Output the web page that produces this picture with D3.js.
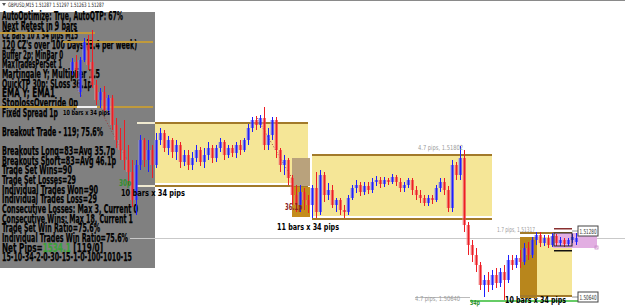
<!DOCTYPE html>
<html><head><meta charset="utf-8">
<script src="https://cdn.jsdelivr.net/npm/d3@7"></script>
<style>html,body{margin:0;padding:0;background:#fff;overflow:hidden}svg{display:block}</style>
</head><body><svg id="c" width="625" height="308"></svg>
<script>
// ---- candle data (GBPUSD M15) ----
const opens=[1.5289,1.5297,1.5267,1.5299,1.5314,1.5297,1.5274,1.5259,1.5267,1.5249,
1.5261,1.5234,1.5219,1.5209,1.5199,1.5187,1.5159,1.5194,1.5219,1.5199,
1.5209,1.5194,1.5219,1.5226,1.5211,1.5219,1.5207,1.5214,1.5197,1.5204,
1.5194,1.5201,1.5209,1.5197,1.5204,1.5211,1.5201,1.5211,1.5217,1.5204,
1.5211,1.5206,1.5214,1.5209,1.5219,1.5231,1.5239,1.5234,1.5241,1.5214,
1.5224,1.5239,1.5209,1.5194,1.5199,1.5181,1.5164,1.5154,1.5167,1.5159,
1.5154,1.5171,1.5147,1.5184,1.5164,1.5169,1.5154,1.5159,1.5149,1.5147,
1.5161,1.5171,1.5174,1.5167,1.5173,1.5169,1.5177,1.5179,1.5175,1.5179,
1.5177,1.5182,1.5177,1.5171,1.5174,1.5179,1.5169,1.5164,1.5161,1.5156,
1.5161,1.5159,1.5171,1.5177,1.5169,1.5151,1.5194,1.5184,1.5201,1.5134,
1.5114,1.5104,1.5094,1.5074,1.5079,1.5074,1.5084,1.5076,1.5087,1.5079,
1.5099,1.5094,1.5101,1.5097,1.5111,1.5104,1.5119,1.5124,1.5116,1.5121,
1.5114,1.5123,1.5116,1.5119,1.5115,1.5119,1.5117];
const closes=[1.5297,1.5289,1.5299,1.5317,1.5294,1.5274,1.5259,1.5267,1.5249,1.5261,
1.5234,1.5219,1.5209,1.5199,1.5187,1.5159,1.5194,1.5219,1.5199,1.5209,
1.5194,1.5219,1.5226,1.5211,1.5219,1.5207,1.5214,1.5197,1.5204,1.5194,
1.5201,1.5209,1.5197,1.5204,1.5211,1.5201,1.5211,1.5217,1.5204,1.5211,
1.5206,1.5214,1.5209,1.5219,1.5231,1.5239,1.5234,1.5241,1.5214,1.5224,
1.5239,1.5209,1.5194,1.5199,1.5181,1.5164,1.5154,1.5167,1.5159,1.5154,
1.5171,1.5147,1.5184,1.5164,1.5169,1.5154,1.5159,1.5149,1.5147,1.5161,
1.5171,1.5174,1.5167,1.5173,1.5169,1.5177,1.5179,1.5175,1.5179,1.5177,
1.5182,1.5177,1.5171,1.5174,1.5179,1.5169,1.5164,1.5161,1.5156,1.5161,
1.5159,1.5171,1.5177,1.5169,1.5151,1.5194,1.5184,1.5201,1.5134,1.5114,
1.5104,1.5094,1.5074,1.5079,1.5074,1.5084,1.5076,1.5087,1.5079,1.5099,
1.5094,1.5101,1.5097,1.5111,1.5104,1.5119,1.5124,1.5116,1.5121,1.5114,
1.5123,1.5116,1.5119,1.5115,1.5119,1.5122,1.5121];
const highs=[1.5301,1.5304,1.5302,1.5321,1.5324,1.5329,1.5279,1.5271,1.5273,1.5264,
1.5264,1.5241,1.5231,1.5239,1.5214,1.5199,1.5199,1.5224,1.5221,1.5219,
1.5214,1.5226,1.5231,1.5229,1.5223,1.5221,1.5219,1.5217,1.5209,1.5209,
1.5207,1.5214,1.5212,1.5211,1.5217,1.5214,1.5214,1.5221,1.5219,1.5214,
1.5214,1.5217,1.5219,1.5221,1.5235,1.5242,1.5243,1.5244,1.5252,1.5231,
1.5242,1.5242,1.5211,1.5204,1.5201,1.5184,1.5174,1.5174,1.5171,1.5164,
1.5174,1.5187,1.5189,1.5187,1.5176,1.5174,1.5161,1.5161,1.5154,1.5164,
1.5174,1.5179,1.5177,1.5177,1.5177,1.5181,1.5183,1.5182,1.5182,1.5181,
1.5185,1.5184,1.5181,1.5177,1.5181,1.5181,1.5173,1.5169,1.5164,1.5164,
1.5164,1.5174,1.5181,1.5181,1.5173,1.5199,1.5197,1.5213,1.5209,1.5137,
1.5119,1.5111,1.5097,1.5084,1.5087,1.5089,1.5091,1.5091,1.5094,1.5104,
1.5104,1.5104,1.5109,1.5116,1.5117,1.5122,1.5127,1.5127,1.5124,1.5124,
1.5126,1.5125,1.5122,1.5121,1.5121,1.5125,1.5126];
const lows=[1.5284,1.5281,1.5262,1.5297,1.5289,1.5271,1.5254,1.5251,1.5247,1.5244,
1.5229,1.5211,1.5199,1.5189,1.5174,1.5152,1.5144,1.5189,1.5192,1.5187,
1.5181,1.5191,1.5214,1.5207,1.5204,1.5201,1.5199,1.5191,1.5193,1.5189,
1.5189,1.5197,1.5193,1.5191,1.5199,1.5196,1.5197,1.5207,1.5199,1.5201,
1.5202,1.5201,1.5204,1.5207,1.5214,1.5227,1.5229,1.5231,1.5209,1.5209,
1.5219,1.5201,1.5187,1.5184,1.5174,1.5154,1.5147,1.5147,1.5149,1.5146,
1.5141,1.5141,1.5144,1.5157,1.5159,1.5151,1.5147,1.5144,1.5141,1.5144,
1.5159,1.5166,1.5163,1.5164,1.5165,1.5166,1.5173,1.5171,1.5172,1.5174,
1.5175,1.5173,1.5167,1.5167,1.5171,1.5164,1.5159,1.5156,1.5153,1.5153,
1.5155,1.5157,1.5167,1.5164,1.5147,1.5147,1.5179,1.5179,1.5127,1.5104,
1.5097,1.5087,1.5069,1.5062,1.5067,1.5069,1.5071,1.5072,1.5059,1.5076,
1.5089,1.5091,1.5091,1.5094,1.5099,1.5101,1.5114,1.5112,1.5113,1.5111,
1.5112,1.5113,1.5113,1.5112,1.5113,1.5116,1.5114];

// ---- info panel text ----
const panelLines=["AutoOptimize: True, AutoQTP: 67%","Next Retest in 9 bars","CZ Bars 10 x 34 pips M15",
"120 CZ's over 100 Days (8.4 per week)","Buffer 2p; MinBar 0","MaxTradesPerSet 1","Martingale Y; Multiplier 1.5",
"QuickTP 30p; SLoss 36.1p","EMA Y; EMA1","StoplossOverride 0p","Fixed Spread 1p","",
"Breakout Trade - 119; 75.6%","","Breakouts Long=83=Avg 35.7p","Breakouts Short=83=Avg 46.1p",
"Trade Set Wins=90","Trade Set Losses=29","Individual Trades Won=90","Individual Trades Loss=29",
"Consecutive Losses: Max 3, Current 0","Consecutive Wins: Max 18, Current 1","Trade Set Win Ratio=75.6%",
"Individual Trades Win Ratio=75.6%","NETPIPS","15-10-34-2-0-30-15-1-0-100-1010-15"];
const netPips=["Net Pips=","1534.1"," [119/0]"];
const headerText="GBPUSD,M15  1.51287 1.51297 1.51263 1.51287";

// ---- zones / levels (bar index, price) ----
const zones=[{i0:20.75,i1:59,top:1.5236,bot:1.5173,lead:16.25},{i0:60,i1:105,top:1.5204,bot:1.5140,lead:60}];
const entryBox={i0:55,i1:59.5,top:1.5201,bot:1.5142,split:1.5173};
const zone3={i0:112,iMid:116.25,i1:125,top:1.5122,bot:1.5061,lineTop:1.5126,lineBot:1.5063};
const tradeBox={i0:120.25,i1:131.25,top:1.5126,bot:1.5111,bi0:120.5,bi1:125,btop:1.5126,bbot:1.5113,tp:1.5130,sl:1.5108};
const goldLines=[{i0:-18,i1:5.75,p:1.5326},{i0:-2.25,i1:20.25,p:1.5317},{i0:-18,i1:20.25,p:1.5252}];
const grayLevel={i0:14.5,i1:140,p:1.5121};
const greenLevel={i0:99.5,i1:127,p:1.5059};
const trendLines=[[0.75,1.5274,2.5,1.5262],[7.75,1.5244,13.75,1.5199],[46.25,1.5241,55.25,1.5179]];
const priceLabels=[{i:126.5,p:1.5128,t:"1.51280"},{i:126.5,p:1.5062,t:"1.50640"}];
const notes=[
 {i:11.75,p:1.5176,t:"30p",c:"#2f8f2f",s:8,w:12,b:1},
 {i:12.25,p:1.5166,t:"10 bars x 34 pips",c:"#000",s:9,w:64,b:1},
 {i:-2.25,p:1.5246,t:"10 bars x 34 pips",c:"#000",s:7,w:47,b:1},
 {i:53.25,p:1.5152,t:"36.1p",c:"#8a1f1f",s:9,w:17,b:1},
 {i:51.25,p:1.5132,t:"11 bars x 34 pips",c:"#000",s:9,w:62,b:1},
 {i:86.5,p:1.5211,t:"4.7 pips, 1.51802",c:"#9a9a9a",s:7,w:45,b:0},
 {i:106.25,p:1.5129,t:"1.7 pips, 1.51317",c:"#9a9a9a",s:7,w:38,b:0},
 {i:85.75,p:1.5060,t:"4.7 pips, 1.50640",c:"#9a9a9a",s:7,w:45,b:0},
 {i:108.25,p:1.5059,t:"10 bars x 34 pips",c:"#000",s:9,w:61,b:1},
 {i:99.5,p:1.5056,t:"34p",c:"#2f8f2f",s:7,w:10,b:1}
];

const svg=d3.select("#c");
const N=opens.length;
const x=d3.scaleLinear().domain([0,N-1]).range([72,576]);
const y=d3.scaleLinear().domain([1.5359,1.5051]).range([0,308]);
const narrow='"Liberation Sans Narrow","DejaVu Sans Condensed","Arial Narrow",sans-serif';

svg.append("rect").attr("x",0).attr("y",0).attr("width",625).attr("height",308).attr("fill","#fff");
svg.append("rect").attr("x",0).attr("y",0).attr("width",625).attr("height",1).attr("fill","#8a8a8a");
// header
svg.append("path").attr("d","M2,3 L6,3 L4,6 Z").attr("fill","#555");
svg.append("text").attr("x",8).attr("y",7).text(headerText).attr("font-family",narrow).attr("font-size",6)
 .attr("fill","#222").attr("textLength",96).attr("lengthAdjust","spacingAndGlyphs");

// info panel
svg.append("rect").attr("x",0).attr("y",12).attr("width",155).attr("height",256).attr("fill","#808080");
const widths=[121,75,76,135,61,60,98,90,53,76,56,0,101,0,113,114,70,74,96,95,136,131,98,126,101,130];
const pg=svg.append("g").attr("font-family",narrow).attr("font-weight","bold").attr("font-size",11.5).attr("fill","#000")
 .attr("stroke","#000").attr("stroke-width",0.25);
panelLines.forEach((s,k)=>{
  if(!s) return;
  const t=pg.append("text").attr("x",2).attr("y",16+9.65*k+4).attr("textLength",widths[k]).attr("lengthAdjust","spacingAndGlyphs");
  if(s==="NETPIPS"){
    netPips.forEach((p,j)=>t.append("tspan").text(p).attr("fill",j===1?"#3aa33a":"#000").attr("stroke",j===1?"#3aa33a":"#000"));
  } else t.text(s);
});

// gray level
svg.append("line").attr("x1",x(grayLevel.i0)).attr("x2",x(grayLevel.i1)).attr("y1",Math.round(y(grayLevel.p))+0.5).attr("y2",Math.round(y(grayLevel.p))+0.5)
 .attr("stroke","#c9c9c9").attr("stroke-width",1);

// zones
const brown="#a27a2a", yellow="#f5e697";
zones.forEach(z=>{
  const x0=x(z.i0),x1=x(z.i1),yt=y(z.top),yb=y(z.bot);
  svg.append("rect").attr("x",x0).attr("y",yt).attr("width",x1-x0).attr("height",yb-yt-3).attr("fill",yellow);
  [yt,yb].forEach(v=>{
    svg.append("rect").attr("x",x0).attr("y",v-1).attr("width",x1-x0).attr("height",2).attr("fill",brown);
    if(z.lead<z.i0) svg.append("rect").attr("x",x(z.lead)).attr("y",v-1).attr("width",x0-x(z.lead)).attr("height",2).attr("fill","#f0ead0");
  });
});
// entry box
{
  const b=entryBox,x0=x(b.i0),x1=x(b.i1);
  svg.append("rect").attr("x",x0).attr("y",y(b.top)).attr("width",x1-x0).attr("height",y(b.split)-y(b.top)).attr("fill","#b9a27c");
  svg.append("rect").attr("x",x0).attr("y",y(b.split)+1).attr("width",x1-x0).attr("height",y(b.bot)-y(b.split)-1).attr("fill","#c48d1d");
}
// zone 3
{
  const z=zone3;
  svg.append("rect").attr("x",x(z.i0)).attr("y",y(z.top)).attr("width",x(z.iMid)-x(z.i0)).attr("height",y(z.bot)-y(z.top)).attr("fill","#b8861c");
  svg.append("rect").attr("x",x(z.iMid)).attr("y",y(z.top)).attr("width",x(z.i1)-x(z.iMid)).attr("height",y(z.bot)-y(z.top)-3).attr("fill",yellow);
  [z.lineTop,z.lineBot].forEach(p=>svg.append("rect").attr("x",x(z.i0)).attr("y",y(p)-1).attr("width",x(z.i1)-x(z.i0)).attr("height",2).attr("fill",brown));
}
// trade box
{
  const t=tradeBox;
  svg.append("rect").attr("x",x(t.i0)).attr("y",y(t.top)).attr("width",x(t.i1)-x(t.i0)).attr("height",y(t.bot)-y(t.top)).attr("fill","#e2aee2");
  svg.append("rect").attr("x",x(t.i1)-2).attr("y",y(t.bot)-2).attr("width",3).attr("height",3).attr("fill","none").attr("stroke","#c58ac5").attr("stroke-width",0.8);
}

// gold lines & white marker
goldLines.forEach(g=>svg.append("rect").attr("x",x(g.i0)).attr("y",y(g.p)-1).attr("width",x(g.i1)-x(g.i0)).attr("height",2).attr("fill","#c09a3c"));
svg.append("rect").attr("x",x(1.25)).attr("y",y(1.5252)-1).attr("width",x(6.25)-x(1.25)).attr("height",2).attr("fill","#f2f2f2");

// green/gray bottom levels
svg.append("rect").attr("x",x(85.75)).attr("y",y(1.5062)).attr("width",x(99.5)-x(85.75)).attr("height",1).attr("fill","#bbbbbb");
svg.append("rect").attr("x",x(greenLevel.i0)).attr("y",y(greenLevel.p)).attr("width",x(greenLevel.i1)-x(greenLevel.i0)).attr("height",2).attr("fill","#66cc66");

// trend lines
trendLines.forEach(t=>svg.append("line").attr("x1",x(t[0])).attr("y1",y(t[1])).attr("x2",x(t[2])).attr("y2",y(t[3]))
 .attr("stroke","#9a3a3a").attr("stroke-width",1).attr("stroke-dasharray","1,2"));

// candles
const idx=d3.range(N);
const cg=svg.append("g");
const col=i=>closes[i]>=opens[i]?"#1e1eff":"#ee1d24";
const halo=i=>closes[i]>=opens[i]?"#9a9af0":"#f0a0a0";
cg.selectAll(".h").data(idx).join("rect").attr("x",i=>x(i)-2).attr("width",4)
 .attr("y",i=>y(Math.max(opens[i],closes[i]))).attr("height",i=>Math.max(1,Math.abs(y(opens[i])-y(closes[i]))))
 .attr("fill",halo).attr("opacity",0.45);
cg.selectAll(".w").data(idx).join("rect").attr("x",i=>Math.round(x(i))).attr("width",1)
 .attr("y",i=>y(highs[i])).attr("height",i=>y(lows[i])-y(highs[i])).attr("fill",col);
cg.selectAll(".b").data(idx).join("rect").attr("x",i=>Math.round(x(i))-0.5).attr("width",2)
 .attr("y",i=>y(Math.max(opens[i],closes[i]))).attr("height",i=>Math.max(1,Math.abs(y(opens[i])-y(closes[i]))))
 .attr("fill",col);

// trade box outlines on top
{
  const t=tradeBox;
  svg.append("rect").attr("x",x(t.bi0)).attr("y",y(t.btop)).attr("width",x(t.bi1)-x(t.bi0)).attr("height",y(t.bbot)-y(t.btop))
   .attr("fill","none").attr("stroke","#222").attr("stroke-width",1);
  svg.append("rect").attr("x",x(t.bi0)).attr("y",y(t.tp)-1).attr("width",x(t.bi1)-x(t.bi0)).attr("height",1.5).attr("fill","#8a3030");
  svg.append("rect").attr("x",x(t.bi0)).attr("y",y(t.sl)-1).attr("width",x(t.bi1)-x(t.bi0)).attr("height",1.5).attr("fill","#111");
}

// price labels
priceLabels.forEach(l=>{
  const lx=x(l.i),ly=y(l.p);
  svg.append("line").attr("x1",x(125)).attr("x2",lx).attr("y1",ly).attr("y2",ly).attr("stroke","#777").attr("stroke-width",0.8);
  svg.append("rect").attr("x",lx).attr("y",ly-5).attr("width",20).attr("height",10).attr("fill","#fff").attr("stroke","#444").attr("stroke-width",1);
  svg.append("text").attr("x",lx+1.5).attr("y",ly+2.5).text(l.t).attr("font-family",narrow).attr("font-size",7).attr("fill","#333")
   .attr("textLength",17).attr("lengthAdjust","spacingAndGlyphs");
});

// annotations
notes.forEach(n=>{
  svg.append("text").attr("x",x(n.i)).attr("y",y(n.p)+n.s*0.35).text(n.t).attr("font-family",narrow)
   .attr("font-weight",n.b?"bold":"normal").attr("font-size",n.s).attr("fill",n.c)
   .attr("textLength",n.w).attr("lengthAdjust","spacingAndGlyphs");
});
</script></body></html>
